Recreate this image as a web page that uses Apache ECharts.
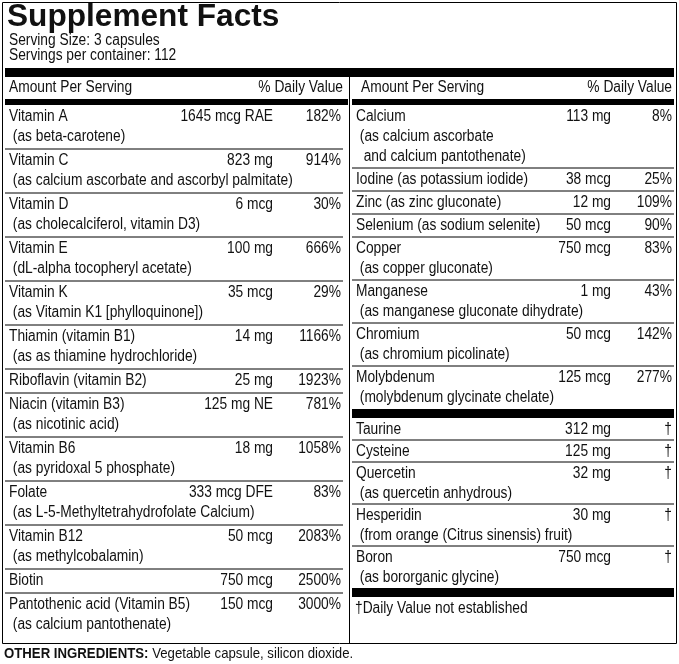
<!DOCTYPE html>
<html>
<head>
<meta charset="utf-8">
<script src="https://cdn.jsdelivr.net/npm/echarts@6/dist/echarts.min.js"></script>
<style>html,body{margin:0;padding:0;background:#fff}#chart{width:679px;height:664px}</style>
</head>
<body>
<div id="chart"></div>
<script>
var FONT = '"Liberation Sans Narrow", "Liberation Sans", Arial, sans-serif';

// left column
var leftNames = ['Vitamin A\n (as beta-carotene)', 'Vitamin C\n (as calcium ascorbate and ascorbyl palmitate)',
  'Vitamin D\n (as cholecalciferol, vitamin D3)', 'Vitamin E\n (dL-alpha tocopheryl acetate)',
  'Vitamin K\n (as Vitamin K1 [phylloquinone])', 'Thiamin (vitamin B1)\n (as as thiamine hydrochloride)',
  'Riboflavin (vitamin B2)', 'Niacin (vitamin B3)\n (as nicotinic acid)', 'Vitamin B6\n (as pyridoxal 5 phosphate)',
  'Folate\n (as L-5-Methyltetrahydrofolate Calcium)', 'Vitamin B12\n (as methylcobalamin)', 'Biotin',
  'Pantothenic acid (Vitamin B5)\n (as calcium pantothenate)'];
var leftAmounts = ['1645 mcg RAE', '823 mg', '6 mcg', '100 mg', '35 mcg', '14 mg', '25 mg', '125 mg NE',
  '18 mg', '333 mcg DFE', '50 mcg', '750 mcg', '150 mcg'];
var leftDV = ['182%', '914%', '30%', '666%', '29%', '1166%', '1923%', '781%', '1058%', '83%', '2083%', '2500%', '3000%'];

// right column, minerals
var rightNames = ['Calcium\n (as calcium ascorbate\n  and calcium pantothenate)', 'Iodine (as potassium iodide)',
  'Zinc (as zinc gluconate)', 'Selenium (as sodium selenite)', 'Copper\n (as copper gluconate)',
  'Manganese\n (as manganese gluconate dihydrate)', 'Chromium\n (as chromium picolinate)',
  'Molybdenum\n (molybdenum glycinate chelate)'];
var rightAmounts = ['113 mg', '38 mcg', '12 mg', '50 mcg', '750 mcg', '1 mg', '50 mcg', '125 mcg'];
var rightDV = ['8%', '25%', '109%', '90%', '83%', '43%', '142%', '277%'];

// right column, others
var otherNames = ['Taurine', 'Cysteine', 'Quercetin\n (as quercetin anhydrous)',
  'Hesperidin\n (from orange (Citrus sinensis) fruit)', 'Boron\n (as bororganic glycine)'];
var otherAmounts = ['312 mg', '125 mg', '32 mg', '30 mg', '750 mcg'];
var otherDV = ['†', '†', '†', '†', '†'];

var g = [];
// condensed look: taller font squeezed horizontally
function txt(x, y, s, opt) {
  opt = opt || {};
  g.push({ type: 'text', x: x, y: y, scaleX: opt.sx || 0.86, style: { text: s, font: (opt.weight || 'normal') + ' ' + (opt.size || 16) + 'px ' + FONT,
    fill: '#111', align: opt.align || 'left', verticalAlign: 'middle', lineHeight: 20 } });
}
function rect(x, y, w, h) { g.push({ type: 'rect', shape: { x: x, y: y, width: w, height: h }, style: { fill: '#000' } }); }
function line(x1, y1, x2, y2, w) { g.push({ type: 'line', shape: { x1: x1, y1: y1, x2: x2, y2: y2 }, style: { stroke: '#000', lineWidth: w || 1 } }); }

function rows(names, amts, dvs, x0, x1, amtX, y, per) {
  for (var i = 0; i < names.length; i++) {
    var parts = names[i].split('\n');
    var h = 20 * parts.length + per;
    for (var j = 0; j < parts.length; j++) txt(x0 + 4, y + 12 + j * 20, parts[j]);
    txt(amtX, y + 12, amts[i], { align: 'right' });
    txt(x1 - 2, y + 12, dvs[i], { align: 'right' });
    y += h;
    if (i < names.length - 1) line(x0, y, x1, y, 1);
  }
  return y;
}

// frame
g.push({ type: 'rect', shape: { x: 2.5, y: 2.5, width: 674, height: 641 }, style: { fill: 'none', stroke: '#000', lineWidth: 1 } });
txt(7, 17, 'Supplement Facts', { size: 31, weight: 'bold', sx: 1.02 });
txt(9, 41, 'Serving Size: 3 capsules');
txt(9, 56, 'Servings per container: 112');
rect(5, 68, 669, 9);
line(349.5, 77, 349.5, 643, 1);
txt(9, 88, 'Amount Per Serving');
txt(343, 88, '% Daily Value', { align: 'right' });
txt(361, 88, 'Amount Per Serving');
txt(672, 88, '% Daily Value', { align: 'right' });
rect(5, 99, 343, 6);
rect(352, 99, 322, 6);

var yl = rows(leftNames, leftAmounts, leftDV, 5, 343, 273, 105, 4);
var yr = rows(rightNames, rightAmounts, rightDV, 352, 674, 611, 105, 3);
rect(352, yr, 322, 9);
var yo = rows(otherNames, otherAmounts, otherDV, 352, 674, 611, yr + 9, 2);
rect(352, yo, 322, 9);
txt(355, yo + 21, '†Daily Value not established');

g.push({ type: 'text', x: 4, y: 654, scaleX: 0.88, style: {
  text: '{b|OTHER INGREDIENTS:} Vegetable capsule, silicon dioxide.', verticalAlign: 'middle',
  rich: { b: { font: 'bold 15px ' + FONT, fill: '#111' } }, font: '15px ' + FONT, fill: '#111' } });

var chart = echarts.init(document.getElementById('chart'));
chart.setOption({ animation: false, graphic: { elements: g } });
</script>
</body>
</html>
